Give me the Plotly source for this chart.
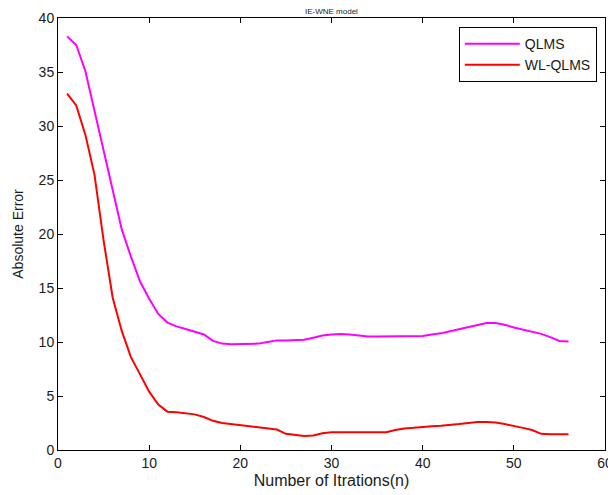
import plotly.graph_objects as go

iterations = list(range(1, 57))
qlms = [38.3, 37.5, 35.1, 31.4, 27.9, 24.0, 20.4, 17.9, 15.6, 14.0,
        12.6, 11.8, 11.45, 11.2, 10.95, 10.7, 10.1, 9.85, 9.8, 9.8,
        9.8, 9.85, 10.0, 10.15, 10.15, 10.2, 10.2, 10.4, 10.6, 10.7,
        10.75, 10.7, 10.6, 10.5, 10.5, 10.5, 10.5, 10.5, 10.5, 10.55,
        10.7, 10.8, 11.0, 11.2, 11.4, 11.6, 11.75, 11.75, 11.6, 11.35,
        11.15, 11.0, 10.75, 10.45, 10.1, 10.05]
wl_qlms = [33.0, 31.9, 29.2, 25.5, 19.4, 14.1, 11.0, 8.6, 7.0, 5.4,
           4.2, 3.55, 3.5, 3.4, 3.3, 3.05, 2.7, 2.5, 2.4, 2.3,
           2.15, 2.05, 2.0, 1.9, 1.5, 1.4, 1.3, 1.35, 1.55, 1.65,
           1.65, 1.65, 1.65, 1.65, 1.65, 1.65, 1.85, 2.0, 2.05, 2.15,
           2.2, 2.25, 2.3, 2.4, 2.5, 2.6, 2.6, 2.55, 2.4, 2.25,
           2.05, 1.85, 1.5, 1.45, 1.45, 1.45]

x_ticks = [0, 10, 20, 30, 40, 50, 60]
y_ticks = [0, 5, 10, 15, 20, 25, 30, 35, 40]

FONT = "Liberation Sans, Arial, sans-serif"

fig = go.Figure()
fig.add_trace(go.Scatter(x=iterations, y=qlms, mode="lines", name="QLMS",
                         line=dict(color="#FF00FF", width=2)))
fig.add_trace(go.Scatter(x=iterations, y=wl_qlms, mode="lines", name="WL-QLMS",
                         line=dict(color="#FF0000", width=2)))

axis_common = dict(showline=True, linecolor="black", linewidth=1, mirror="ticks",
                   ticks="inside", ticklen=5, tickcolor="black", showgrid=False,
                   zeroline=False, automargin=False,
                   tickfont=dict(family=FONT, size=14, color="#1a1a1a"))

fig.update_xaxes(range=[0, 60], tickvals=x_ticks, ticktext=[str(v) for v in x_ticks],
                 title=dict(text="Number of Itrations(n)", font=dict(family=FONT, size=16, color="#1a1a1a"),
                            standoff=5),
                 **axis_common)
fig.update_yaxes(range=[0, 40], tickvals=y_ticks, ticktext=[str(v) for v in y_ticks],
                 title=dict(text="Absolute Error", font=dict(family=FONT, size=14, color="#1a1a1a"),
                            standoff=11),
                 **axis_common)

fig.add_annotation(text="IE-WNE model", xref="paper", yref="paper", x=0.5, y=1,
                   xanchor="center", yanchor="bottom", yshift=0, showarrow=False,
                   font=dict(family=FONT, size=8, color="#1a1a1a"))

fig.update_layout(
    width=608, height=487,
    margin=dict(l=50, r=11, t=10, b=45),
    paper_bgcolor="white", plot_bgcolor="white",
    font=dict(family=FONT, size=14, color="#1a1a1a"),
    showlegend=True,
    legend=dict(x=0.985, y=0.979, xanchor="right", yanchor="top",
                bgcolor="white", bordercolor="black", borderwidth=1,
                font=dict(family=FONT, size=14, color="#1a1a1a"),
                itemwidth=55, tracegroupgap=0),
)

fig.write_html("out.html")
